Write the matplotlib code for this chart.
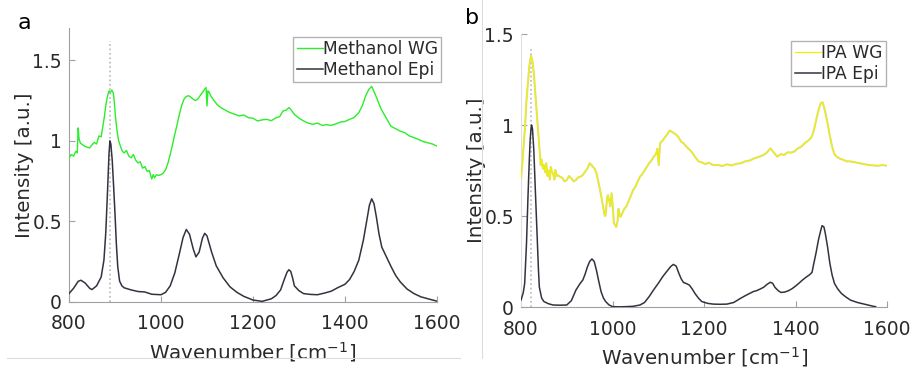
import matplotlib
matplotlib.use("Agg")
import matplotlib.pyplot as plt
from matplotlib.lines import Line2D

# ---------------- data ----------------
meth_epi_x = [800, 810, 820, 826, 835, 845, 850, 860, 870, 876, 880, 884, 887, 889, 891, 894, 897, 900,
              903, 906, 910, 915, 920, 935, 950, 965, 980, 1000, 1010, 1020, 1030, 1040, 1048, 1055, 1062,
              1070, 1076, 1083, 1090, 1095, 1100, 1110, 1120, 1135, 1150, 1165, 1180, 1200, 1220, 1240,
              1250, 1260, 1268, 1274, 1278, 1282, 1286, 1290, 1300, 1310, 1325, 1340, 1355, 1370, 1385,
              1400, 1410, 1420, 1430, 1440, 1447, 1453, 1458, 1463, 1468, 1474, 1480, 1490, 1500, 1510,
              1520, 1535, 1550, 1565, 1580, 1600]
meth_epi_y = [0.052, 0.085, 0.128, 0.135, 0.118, 0.085, 0.077, 0.100, 0.155, 0.260, 0.430, 0.700, 0.920,
              1.000, 0.980, 0.880, 0.720, 0.550, 0.360, 0.220, 0.130, 0.100, 0.088, 0.075, 0.065, 0.062,
              0.048, 0.045, 0.060, 0.100, 0.180, 0.300, 0.400, 0.450, 0.420, 0.330, 0.280, 0.310, 0.395,
              0.426, 0.410, 0.310, 0.225, 0.150, 0.094, 0.060, 0.035, 0.012, 0.004, 0.020, 0.040, 0.075,
              0.140, 0.185, 0.200, 0.190, 0.150, 0.100, 0.070, 0.052, 0.047, 0.045, 0.055, 0.067, 0.090,
              0.110, 0.140, 0.190, 0.260, 0.385, 0.500, 0.600, 0.640, 0.610, 0.530, 0.420, 0.340, 0.280,
              0.220, 0.165, 0.125, 0.080, 0.052, 0.032, 0.020, 0.005]

meth_wg_x = [800, 805, 810, 815, 818, 820, 822, 825, 830, 835, 840, 845, 850, 855, 860, 865, 870, 873, 877,
             880, 884, 887, 890, 893, 896, 898, 901, 905, 908, 912, 916, 920, 925, 930, 935, 940, 945, 950,
             955, 960, 965, 970, 975, 978, 980, 983, 986, 990, 995, 1000, 1005, 1010, 1015, 1020, 1025,
             1030, 1035, 1040, 1045, 1050, 1055, 1060, 1065, 1070, 1075, 1080, 1085, 1090, 1095, 1098,
             1100, 1102, 1104, 1108, 1115, 1122, 1130, 1140, 1150, 1160, 1170, 1180, 1190, 1200, 1210,
             1220, 1230, 1240, 1250, 1258, 1265, 1272, 1278, 1282, 1290, 1300, 1310, 1320, 1330, 1340,
             1350, 1360, 1370, 1380, 1390, 1400, 1410, 1420, 1430, 1438, 1445, 1452, 1458, 1464, 1470,
             1478, 1485, 1492, 1500, 1510, 1520, 1530, 1540, 1550, 1560, 1570, 1580, 1590, 1600]
meth_wg_y = [0.893, 0.915, 0.905, 0.935, 0.925, 1.080, 1.010, 0.985, 0.975, 0.965, 0.960, 0.956, 0.975,
             0.990, 0.980, 1.030, 1.025, 1.080, 1.150, 1.220, 1.280, 1.310, 1.300, 1.315, 1.300, 1.260,
             1.150, 1.050, 1.000, 0.965, 0.935, 0.925, 0.940, 0.905, 0.895, 0.915, 0.880, 0.863, 0.870,
             0.830, 0.840, 0.810, 0.815, 0.780, 0.763, 0.790, 0.770, 0.790, 0.785, 0.790, 0.800, 0.820,
             0.860, 0.915, 0.975, 1.040, 1.100, 1.164, 1.220, 1.258, 1.275, 1.280, 1.270, 1.258, 1.250,
             1.258, 1.280, 1.300, 1.320, 1.330, 1.216, 1.310, 1.305, 1.280, 1.250, 1.225, 1.206, 1.190,
             1.175, 1.165, 1.154, 1.160, 1.143, 1.140, 1.123, 1.130, 1.133, 1.125, 1.143, 1.150, 1.185,
             1.190, 1.206, 1.195, 1.164, 1.140, 1.123, 1.110, 1.102, 1.110, 1.096, 1.100, 1.096, 1.105,
             1.116, 1.120, 1.133, 1.145, 1.175, 1.220, 1.280, 1.320, 1.337, 1.300, 1.258, 1.200, 1.164,
             1.130, 1.090, 1.075, 1.060, 1.050, 1.030, 1.020, 1.008, 0.995, 0.988, 0.980, 0.967]

ipa_epi_x = [800, 805, 808, 812, 815, 818, 820, 822, 823, 825, 828, 831, 835, 838, 840, 845, 850, 860,
             870, 885, 900, 910, 920, 928, 935, 940, 945, 950, 955, 960, 965, 970, 975, 980, 985, 992,
             1000, 1015, 1030, 1045, 1060, 1070, 1080, 1090, 1100, 1110, 1120, 1127, 1133, 1139, 1145,
             1150, 1155, 1162, 1168, 1174, 1180, 1188, 1195, 1208, 1220, 1235, 1250, 1265, 1280, 1290,
             1300, 1308, 1315, 1322, 1330, 1338, 1345, 1350, 1355, 1362, 1368, 1376, 1385, 1392, 1400,
             1408, 1415, 1422, 1430, 1436, 1440, 1445, 1450, 1455, 1458, 1462, 1465, 1470, 1475, 1480,
             1485, 1492, 1500, 1510, 1520, 1535, 1550, 1560, 1570, 1575]
ipa_epi_y = [0.038, 0.080, 0.130, 0.350, 0.590, 0.800, 0.920, 0.985, 1.000, 0.980, 0.860, 0.660, 0.405,
             0.210, 0.110, 0.050, 0.030, 0.018, 0.011, 0.010, 0.011, 0.035, 0.093, 0.125, 0.148, 0.180,
             0.220, 0.250, 0.264, 0.250, 0.200, 0.140, 0.084, 0.050, 0.030, 0.012, 0.002, 0.001, 0.002,
             0.004, 0.011, 0.025, 0.057, 0.095, 0.130, 0.168, 0.200, 0.222, 0.234, 0.225, 0.185, 0.155,
             0.135, 0.128, 0.120, 0.100, 0.075, 0.048, 0.030, 0.020, 0.016, 0.015, 0.016, 0.025, 0.048,
             0.062, 0.075, 0.085, 0.090, 0.098, 0.108, 0.125, 0.136, 0.130, 0.108, 0.090, 0.080, 0.082,
             0.090, 0.100, 0.115, 0.132, 0.148, 0.162, 0.176, 0.190, 0.240, 0.300, 0.368, 0.420, 0.447,
             0.440, 0.405, 0.330, 0.240, 0.175, 0.130, 0.100, 0.075, 0.055, 0.038, 0.025, 0.016, 0.010,
             0.004, 0.002]

ipa_wg_x = [800, 805, 809, 812, 815, 818, 820, 822, 825, 828, 831, 835, 838, 840, 843, 845, 848, 850,
            853, 855, 858, 860, 863, 865, 868, 870, 873, 875, 878, 880, 885, 890, 895, 900, 905, 910,
            915, 920, 925, 930, 935, 940, 945, 950, 954, 957, 961, 965, 968, 972, 976, 980, 983, 985,
            988, 990, 993, 995, 998, 1001, 1003, 1006, 1008, 1011, 1013, 1016, 1018, 1022, 1026, 1030,
            1035, 1040, 1045, 1050, 1055, 1060, 1065, 1070, 1075, 1080, 1085, 1090, 1095, 1098, 1101,
            1104, 1108, 1115, 1120, 1125, 1130, 1135, 1140, 1145, 1150, 1155, 1160, 1165, 1170, 1175,
            1180, 1188, 1195, 1203, 1210, 1220, 1230, 1240, 1250, 1260, 1270, 1280, 1290, 1300, 1310,
            1320, 1330, 1338, 1345, 1352, 1360, 1368, 1375, 1383, 1390, 1398, 1405, 1412, 1420, 1428,
            1435, 1440, 1445, 1450, 1455, 1459, 1462, 1466, 1470, 1475, 1480, 1485, 1490, 1497, 1505,
            1512, 1520, 1530, 1540, 1550, 1560, 1570, 1580, 1590, 1600]
ipa_wg_y = [0.707, 0.860, 1.000, 1.137, 1.230, 1.320, 1.355, 1.380, 1.350, 1.285, 1.180, 1.046, 0.950,
            0.880, 0.780, 0.810, 0.760, 0.780, 0.740, 0.790, 0.720, 0.750, 0.700, 0.770, 0.740, 0.734,
            0.700, 0.753, 0.720, 0.725, 0.716, 0.710, 0.690, 0.698, 0.720, 0.707, 0.690, 0.698, 0.712,
            0.716, 0.725, 0.744, 0.760, 0.790, 0.780, 0.770, 0.760, 0.734, 0.700, 0.652, 0.600, 0.542,
            0.500, 0.505, 0.600, 0.615, 0.580, 0.553, 0.625, 0.540, 0.460, 0.450, 0.440, 0.470, 0.540,
            0.500, 0.496, 0.520, 0.540, 0.551, 0.580, 0.610, 0.643, 0.660, 0.690, 0.716, 0.730, 0.750,
            0.770, 0.790, 0.805, 0.826, 0.840, 0.870, 0.780, 0.900, 0.910, 0.934, 0.950, 0.970, 0.962,
            0.954, 0.945, 0.930, 0.908, 0.900, 0.885, 0.872, 0.860, 0.845, 0.826, 0.800, 0.795, 0.785,
            0.793, 0.780, 0.780, 0.775, 0.784, 0.778, 0.786, 0.790, 0.800, 0.805, 0.817, 0.825, 0.835,
            0.850, 0.872, 0.850, 0.826, 0.840, 0.835, 0.850, 0.848, 0.855, 0.872, 0.880, 0.900, 0.915,
            0.934, 0.970, 1.027, 1.080, 1.120, 1.125, 1.100, 1.060, 1.010, 0.940, 0.880, 0.840, 0.826,
            0.815, 0.808, 0.800, 0.800, 0.795, 0.790, 0.785, 0.780, 0.778, 0.776, 0.780, 0.776]

xticks = [800, 1000, 1200, 1400, 1600]
yticks = [0, 0.5, 1, 1.5]
ytick_labels = ["0", "0.5", "1", "1.5"]
legend_left = ["Methanol WG", "Methanol Epi"]
legend_right = ["IPA WG", "IPA Epi"]
marker_left = 889
marker_right = 822.5

# ---------------- figure ----------------
plt.rcParams['font.family'] = ['DejaVu Sans']
fig = plt.figure(figsize=(9.16, 3.72), dpi=100)

GREEN = '#2aee2a'
EPI = '#33333f'
YELLOW = '#f0f000'
AXC = '#a0a0a0'
TXT = '#2a2a2a'
FS_TICK = 13.5
FS_LAB = 14.3
FS_LEG = 12.3


def style(ax, ylim):
    ax.set_xlim(800, 1600)
    ax.set_ylim(*ylim)
    ax.set_xticks(xticks)
    ax.set_yticks(yticks)
    ax.set_yticklabels(ytick_labels)
    for s in ['top', 'right']:
        ax.spines[s].set_visible(False)
    for s in ['left', 'bottom']:
        ax.spines[s].set_color(AXC)
        ax.spines[s].set_linewidth(0.8)
    ax.tick_params(direction='in', length=4, width=0.8, color=AXC, labelcolor=TXT,
                   labelsize=FS_TICK)
    ax.tick_params(axis='x', pad=9)
    ax.tick_params(axis='y', pad=5)
    ax.set_xlabel('Wavenumber [cm$^{-1}$]', fontsize=FS_LAB, color=TXT, labelpad=5)
    ax.set_ylabel('Intensity [a.u.]', fontsize=FS_LAB, color=TXT, labelpad=-1)


def legend(ax, handles, labels, anchor):
    leg = ax.legend(handles, labels, loc='upper right', bbox_to_anchor=anchor,
                    fontsize=FS_LEG, frameon=True, fancybox=False, handlelength=1.55,
                    handletextpad=0.0, borderpad=0.2, labelspacing=0.15, borderaxespad=0.0)
    leg.get_frame().set_edgecolor('#a0a0a0')
    leg.get_frame().set_linewidth(1.0)
    for t in leg.get_texts():
        t.set_color(TXT)
    return leg


# left panel
ax1 = fig.add_axes([0.0753, 0.1882, 0.4018, 0.7366])
style(ax1, (0, 1.7))
ax1.plot([marker_left, marker_left], [0, 1.62], ls=':', color='#b8b8b8', lw=1.2, zorder=1)
l1, = ax1.plot(meth_wg_x, meth_wg_y, color=GREEN, lw=1.0, zorder=3)
l2, = ax1.plot(meth_epi_x, meth_epi_y, color=EPI, lw=1.1, zorder=3)
legend(ax1, [l1, l2], legend_left, (1.012, 0.967))

# right panel
ax2 = fig.add_axes([0.5688, 0.1747, 0.3996, 0.7339])
style(ax2, (0, 1.5))
ax2.spines['left'].set_color('#e0e0e0')
ax2.plot([marker_right, marker_right], [0, 1.43], ls=':', color='#b8b8b8', lw=1.2, zorder=1)
ax2.plot(ipa_wg_x, ipa_wg_y, color='#d8d8b8', lw=1.5, zorder=2)
l3, = ax2.plot(ipa_wg_x, ipa_wg_y, color=YELLOW, lw=0.9, zorder=3)
l4, = ax2.plot(ipa_epi_x, ipa_epi_y, color=EPI, lw=1.1, zorder=3)
legend(ax2, [l3, l4], legend_right, (0.997, 0.975))

# panel letters
fig.text(24 / 916, 1 - 23 / 372, 'a', fontsize=16, color='black', va='center', ha='center')
fig.text(472 / 916, 1 - 18 / 372, 'b', fontsize=16, color='black', va='center', ha='center')

# faint panel borders
fig.add_artist(Line2D([7 / 916, 460 / 916], [1 - 358 / 372, 1 - 358 / 372],
                      transform=fig.transFigure, color='#dcdcdc', lw=0.8))
fig.add_artist(Line2D([482 / 916, 482 / 916], [1 - 358 / 372, 1.0],
                      transform=fig.transFigure, color='#dcdcdc', lw=0.8))

fig.savefig('out.png', dpi=100)
